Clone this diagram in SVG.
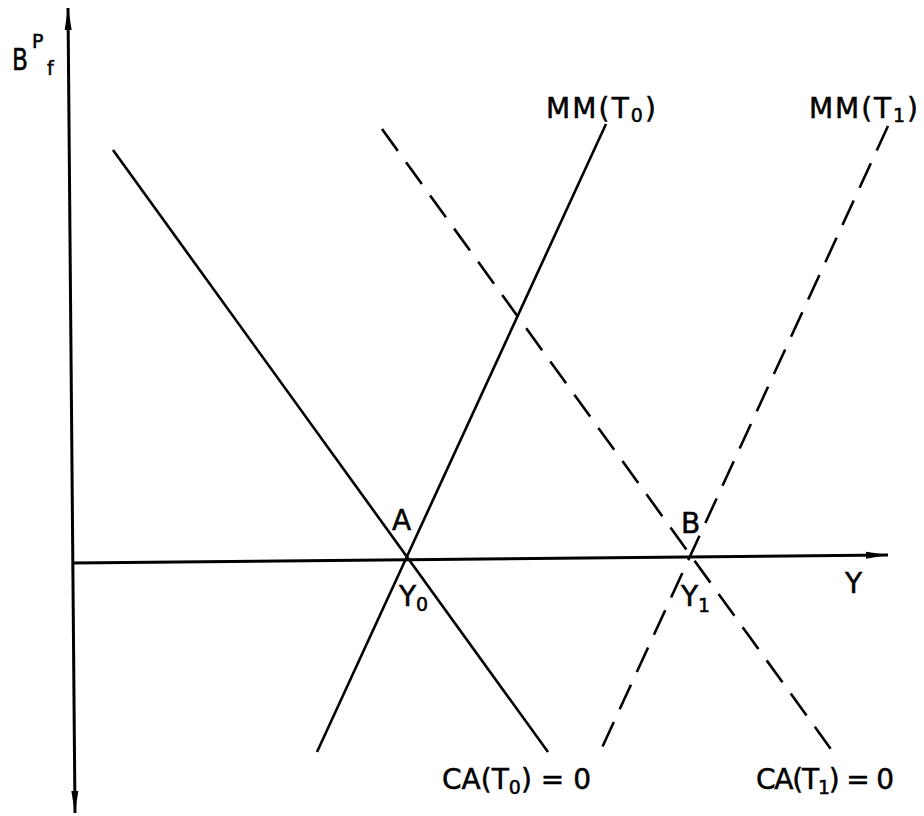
<svg xmlns="http://www.w3.org/2000/svg" width="924" height="816" viewBox="0 0 924 816">
  <style>
    .ax { stroke: #000; stroke-width: 3; fill: none; }
    .ln { stroke: #000; stroke-width: 2.6; fill: none; stroke-linecap: butt; }
    .dash { stroke-dasharray: 27 14; }
    text { font-family: "DejaVu Sans", "Liberation Sans", sans-serif; font-size: 28px; fill: #000; stroke: #000; stroke-width: 0.5; }
    .sub { font-size: 19px; }
  </style>
  <defs>
    <marker id="arr" viewBox="-1 -5 24 10" refX="22" refY="0" markerWidth="24" markerHeight="10" markerUnits="userSpaceOnUse" orient="auto-start-reverse">
      <path d="M0,-3.5 L22,0 L0,3.5 z" fill="#000"/>
    </marker>
  </defs>
  <rect width="924" height="816" fill="#fff"/>

  <g id="connectors">
    <line id="axis-v" class="ax" x1="68" y1="8" x2="75" y2="813" marker-start="url(#arr)" marker-end="url(#arr)"/>
    <line id="axis-h" class="ax" x1="73" y1="563" x2="888" y2="555" marker-end="url(#arr)"/>
    <line id="ca0" class="ln" x1="113" y1="150" x2="548" y2="752"/>
    <line id="mm0" class="ln" x1="317" y1="752" x2="606" y2="124"/>
    <line id="ca1" class="ln dash" x1="382" y1="129" x2="833" y2="752"/>
    <line id="mm1" class="ln dash" x1="888" y1="126" x2="600" y2="752"/>
  </g>

  <g id="label-bpf">
    <text x="12" y="70" textLength="16" lengthAdjust="spacingAndGlyphs" style="font-size:31px">B</text>
    <text x="32" y="48" class="sub">P</text>
    <text x="47" y="75" class="sub">f</text>
  </g>
  <g id="label-mm0">
    <text x="546" y="118" textLength="110" lengthAdjust="spacing">MM(T<tspan class="sub" dy="4">0</tspan><tspan dy="-4">)</tspan></text>
  </g>
  <g id="label-mm1">
    <text x="809" y="118" textLength="109" lengthAdjust="spacing">MM(T<tspan class="sub" dy="4">1</tspan><tspan dy="-4">)</tspan></text>
  </g>
  <g id="label-A">
    <text x="392" y="530">A</text>
  </g>
  <g id="label-B">
    <text x="681" y="533">B</text>
  </g>
  <g id="label-Y0">
    <text x="399" y="606">Y<tspan class="sub" dy="5">0</tspan></text>
  </g>
  <g id="label-Y1">
    <text x="681" y="606">Y<tspan class="sub" dy="6">1</tspan></text>
  </g>
  <g id="label-Y">
    <text x="845" y="593">Y</text>
  </g>
  <g id="label-ca0">
    <text x="442" y="789" textLength="149" lengthAdjust="spacing">CA(T<tspan class="sub" dy="5">0</tspan><tspan dy="-5">) = 0</tspan></text>
  </g>
  <g id="label-ca1">
    <text x="756" y="789" textLength="138" lengthAdjust="spacing">CA(T<tspan class="sub" dy="5">1</tspan><tspan dy="-5">) = 0</tspan></text>
  </g>
</svg>
